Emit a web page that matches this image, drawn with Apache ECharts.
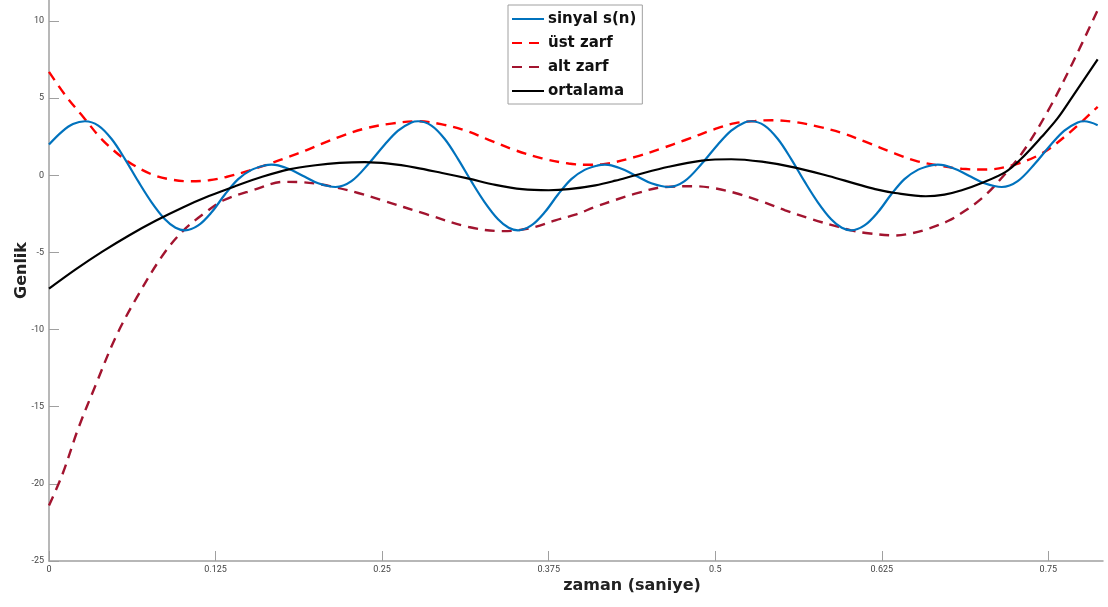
<!DOCTYPE html>
<html>
<head>
<meta charset="utf-8">
<script src="https://cdn.jsdelivr.net/npm/echarts@6/dist/echarts.min.js"></script>
<style>html,body{margin:0;padding:0;background:#fff}#c{width:1108px;height:607px}</style>
</head>
<body>
<div id="c"></div>
<script>
// ---- data ----
const seriesNames = ['sinyal s(n)', 'üst zarf', 'alt zarf', 'ortalama'];
const xTicks = [0, 0.125, 0.25, 0.375, 0.5, 0.625, 0.75];
const yTicks = [-25, -20, -15, -10, -5, 0, 5, 10];

const sigT = [0.000,0.010,0.018,0.027,0.037,0.047,0.057,0.067,0.077,0.087,0.095,0.102,0.112,0.122,0.132,0.142,0.152,0.162,0.167,0.172,0.182,0.192,0.202,0.215,0.227,0.240,0.252,0.262,0.272,0.277,
  0.287,0.297,0.307,0.317,0.327,0.337,0.345,0.352,0.362,0.372,0.382,0.392,0.402,0.412,0.417,0.422,0.432,0.442,0.452,0.465,0.477,0.490,0.502,0.512,0.522,0.527,
  0.537,0.547,0.557,0.567,0.577,0.587,0.595,0.602,0.612,0.622,0.632,0.642,0.652,0.662,0.667,0.672,0.682,0.692,0.702,0.715,0.727,0.740,0.752,0.762,0.772,0.777,0.787];
const sigV = [2.00,2.85,3.32,3.50,3.22,2.35,1.05,-0.40,-1.75,-2.85,-3.40,-3.57,-3.25,-2.40,-1.25,-0.25,0.35,0.64,0.69,0.64,0.34,-0.10,-0.52,-0.76,-0.38,0.76,2.00,2.90,3.42,3.50,
  3.22,2.35,1.05,-0.40,-1.75,-2.85,-3.40,-3.57,-3.25,-2.40,-1.25,-0.25,0.35,0.64,0.69,0.64,0.34,-0.10,-0.52,-0.76,-0.38,0.76,2.00,2.90,3.42,3.50,
  3.22,2.35,1.05,-0.40,-1.75,-2.85,-3.40,-3.57,-3.25,-2.40,-1.25,-0.25,0.35,0.64,0.69,0.64,0.34,-0.10,-0.52,-0.76,-0.38,0.76,2.00,2.90,3.42,3.50,3.25];

const upT = [0.000,0.013,0.026,0.040,0.058,0.076,0.090,0.106,0.120,0.133,0.150,0.166,0.180,0.193,0.205,0.218,0.237,0.257,0.277,0.295,0.312,0.330,0.350,0.370,0.390,0.405,0.416,0.440,0.460,0.477,0.500,0.515,0.530,0.543,0.560,0.578,0.595,0.613,0.635,0.650,0.666,0.685,0.703,0.723,0.745,0.765,0.787];
const upV = [6.70,5.10,3.75,2.30,0.97,0.10,-0.25,-0.39,-0.32,-0.11,0.30,0.76,1.20,1.62,2.05,2.49,3.03,3.35,3.50,3.30,2.92,2.30,1.62,1.10,0.76,0.68,0.72,1.19,1.75,2.27,3.00,3.38,3.52,3.57,3.45,3.14,2.75,2.16,1.41,0.95,0.65,0.42,0.37,0.65,1.41,2.70,4.44];

const loT = [0.000,0.010,0.022,0.035,0.050,0.066,0.086,0.101,0.116,0.131,0.153,0.176,0.190,0.200,0.215,0.232,0.250,0.282,0.315,0.340,0.351,0.365,0.380,0.395,0.410,0.425,0.440,0.462,0.485,0.500,0.515,0.535,0.5525,0.5725,0.5926,0.602,0.613,0.635,0.648,0.660,0.675,0.688,0.700,0.710,0.730,0.750,0.768,0.787];
const loV = [-21.4,-19.4,-16.4,-13.6,-10.5,-7.9,-5.1,-3.57,-2.50,-1.62,-0.97,-0.43,-0.45,-0.54,-0.78,-1.15,-1.62,-2.49,-3.35,-3.62,-3.57,-3.35,-2.92,-2.55,-2.05,-1.60,-1.19,-0.76,-0.71,-0.85,-1.15,-1.70,-2.27,-2.85,-3.35,-3.57,-3.74,-3.90,-3.75,-3.46,-2.95,-2.27,-1.50,-0.65,1.41,4.22,7.25,10.7];

const meanT = [0.000,0.020,0.040,0.060,0.080,0.100,0.120,0.140,0.160,0.180,0.200,0.218,0.237,0.255,0.275,0.295,0.315,0.335,0.355,0.375,0.390,0.410,0.425,0.440,0.465,0.490,0.512,0.535,0.560,0.585,0.605,0.620,0.635,0.658,0.672,0.685,0.700,0.718,0.730,0.745,0.757,0.768,0.787];
const meanV = [-7.35,-6.10,-4.95,-3.90,-2.95,-2.10,-1.35,-0.70,-0.10,0.38,0.65,0.80,0.85,0.75,0.50,0.15,-0.22,-0.62,-0.90,-0.97,-0.90,-0.65,-0.35,0.00,0.55,0.95,1.04,0.88,0.50,-0.05,-0.54,-0.90,-1.15,-1.36,-1.25,-0.97,-0.50,0.22,1.10,2.49,3.70,5.08,7.51];

const pairs = (t, v) => t.map((x, i) => [x, v[i]]);

const chart = echarts.init(document.getElementById('c'), null, {renderer: 'canvas'});
const axisGray = '#a0a0a0';
const labelStyle = {color: '#444', fontSize: 9, fontFamily: 'Liberation Sans Narrow, Roboto, sans-serif'};
const boldFont = 'DejaVu Sans, sans-serif';

chart.setOption({
  animation: false,
  backgroundColor: '#fff',
  grid: {left: 49, right: 5, top: 0, bottom: 46, containLabel: false, outerBoundsMode: 'none'},
  legend: {
    data: seriesNames,
    orient: 'vertical',
    left: 508, top: 5,
    padding: [5, 6, 4, 3],
    itemWidth: 32, itemHeight: 14, itemGap: 6,
    itemStyle: {opacity: 0},
    backgroundColor: '#fff',
    borderColor: '#a0a0a0', borderWidth: 1, borderRadius: 0,
    textStyle: {fontSize: 15, fontWeight: 'bold', color: '#111', fontFamily: boldFont, lineHeight: 18, padding: [0,0,0,-1]}
  },
  xAxis: {
    type: 'value', min: 0, max: 0.791, interval: 0.125,
    name: 'zaman (saniye)', nameLocation: 'middle', nameGap: 17, nameMoveOverlap: false,
    nameTextStyle: {fontSize: 16, fontWeight: 'bold', color: '#222', fontFamily: boldFont, padding: [0,0,0,112]},
    axisLine: {show: true, onZero: false, lineStyle: {color: axisGray, width: 1.5}},
    axisTick: {show: true, inside: true, length: 10, lineStyle: {color: axisGray, width: 1}},
    axisLabel: Object.assign({margin: 4, showMaxLabel: false, formatter: v => String(v)}, labelStyle),
    splitLine: {show: false}
  },
  yAxis: {
    type: 'value', min: -25, max: 11.36, interval: 5,
    name: 'Genlik', nameLocation: 'middle', nameGap: 19, nameRotate: 90, nameMoveOverlap: false,
    nameTextStyle: {fontSize: 16, fontWeight: 'bold', color: '#222', fontFamily: boldFont, padding: [0,0,0,20]},
    axisLine: {show: true, onZero: false, lineStyle: {color: axisGray, width: 1.5}},
    axisTick: {show: true, inside: true, length: 10, lineStyle: {color: axisGray, width: 1}},
    axisLabel: Object.assign({margin: 5, showMaxLabel: false}, labelStyle),
    splitLine: {show: false}
  },
  series: [
    {name: seriesNames[0], type: 'line', data: pairs(sigT, sigV), smooth: 0.35, symbol: 'none',
     lineStyle: {color: '#0072BD', width: 2.2}, itemStyle: {color: '#0072BD'}, z: 4},
    {name: seriesNames[1], type: 'line', data: pairs(upT, upV), smooth: 0.35, symbol: 'none',
     lineStyle: {color: '#FF0000', width: 2.4, type: [10, 7]}, itemStyle: {color: '#FF0000'}, z: 3},
    {name: seriesNames[2], type: 'line', data: pairs(loT, loV), smooth: 0.35, symbol: 'none',
     lineStyle: {color: '#A2142F', width: 2.4, type: [10, 7]}, itemStyle: {color: '#A2142F'}, z: 3},
    {name: seriesNames[3], type: 'line', data: pairs(meanT, meanV), smooth: 0.35, symbol: 'none',
     lineStyle: {color: '#000000', width: 2.2}, itemStyle: {color: '#000000'}, z: 5}
  ]
});
</script>
</body>
</html>
